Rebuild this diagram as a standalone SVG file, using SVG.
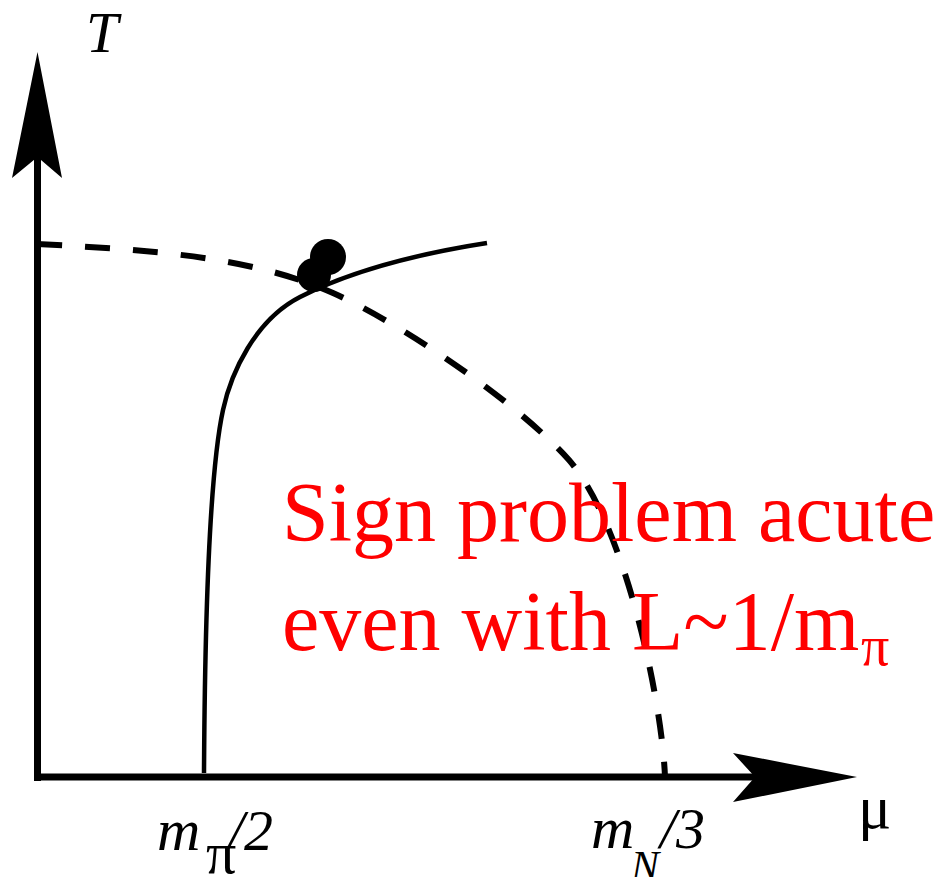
<svg xmlns="http://www.w3.org/2000/svg" width="949" height="877" viewBox="0 0 949 877">
<style>
.ax{stroke:#000;stroke-width:7;fill:none}
.head{fill:#000;stroke:none}
.dash{stroke:#000;stroke-width:6;fill:none;stroke-dasharray:25 23}
.solid{stroke:#000;stroke-width:4.5;fill:none}
.lbl{font-family:"Liberation Serif","Times New Roman",serif;fill:#000}
.it{font-style:italic}
.red{font-family:"Liberation Serif","Times New Roman",serif;fill:#ff0000}
</style>
<rect width="949" height="877" fill="#fff"/>
<g id="axes">
<line class="ax" x1="37.5" y1="781" x2="37.5" y2="150"/>
<polygon class="head" points="37.5,52 62,178 37.5,157 12,178"/>
<line class="ax" x1="34" y1="777" x2="760" y2="777"/>
<polygon class="head" points="857,777 733,802 755,777 733,753"/>
</g>
<g id="connectors">
<path class="dash" d="M37,244 C150,250 250,256 333,293 C400,323 515,400 569,460 C625,525 662,700 665,777"/>
<path class="solid" d="M204,773 C205,600 210,470 223,410 C231,373 255,320 300,297 C345,274 410,255 487,243"/>
</g>
<g id="critical-points">
<circle cx="328" cy="257" r="18" fill="#000"/>
<circle cx="314" cy="275" r="17" fill="#000"/>
</g>
<g id="labels">
<text class="lbl it" x="86" y="52" font-size="58">T</text>
<text class="lbl" x="858" y="828" font-size="62">μ</text>
<text class="lbl it" x="157" y="850" font-size="60">m</text>
<text class="lbl" x="206" y="873" font-size="60">π</text>
<text class="lbl it" x="228" y="850" font-size="58">/2</text>
<text class="lbl it" x="591" y="848" font-size="60">m</text>
<text class="lbl it" x="631" y="880" font-size="42">N</text>
<text class="lbl it" x="660" y="848" font-size="58">/3</text>
</g>
<g id="annotation">
<text class="red" x="282" y="541" font-size="84">Sign problem acute</text>
<text class="red" x="282" y="650" font-size="84">even with L~1/m</text>
<text class="red" x="861" y="665" font-size="56">π</text>
</g>
</svg>
